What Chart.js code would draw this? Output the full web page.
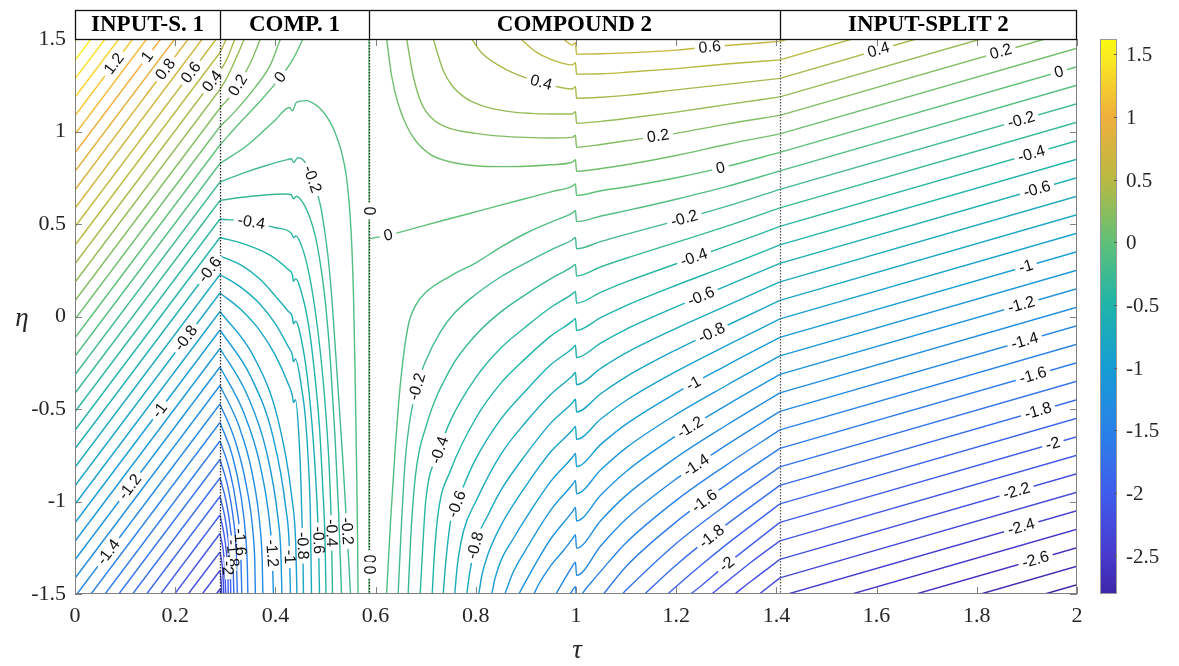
<!DOCTYPE html>
<html>
<head>
<meta charset="utf-8">
<title>Contour map</title>
<script src="https://cdn.jsdelivr.net/npm/chart.js@4.4.1/dist/chart.umd.min.js"></script>
<style>
html,body{margin:0;padding:0;background:#ffffff;}
canvas{display:block;}
</style>
</head>
<body>
<canvas id="chart" width="1179" height="666"></canvas>
<script>
// ---------------- data ----------------
const xTickValues = [0, 0.2, 0.4, 0.6, 0.8, 1, 1.2, 1.4, 1.6, 1.8, 2];
const yTickValues = [-1.5, -1, -0.5, 0, 0.5, 1, 1.5];
const cbTickValues = [1.5, 1, 0.5, 0, -0.5, -1, -1.5, -2, -2.5];
const cbRange = [-2.803, 1.62];
const sectionNames = ['INPUT-S. 1', 'COMP. 1', 'COMPOUND 2', 'INPUT-SPLIT 2'];
const sectionEdges = [0, 0.2894, 0.5868, 1.407, 2];

// contour polylines: [level, [[tau, eta], ...]]
const linesInputSplit1 = [
  [1.6,[[0,1.485],[0.004,1.5]]],
  [1.5,[[0,1.385],[0.032,1.5]]],
  [1.4,[[0,1.285],[0.06,1.5]]],
  [1.3,[[0,1.185],[0.0875,1.5]]],
  [1.2,[[0,1.085],[0.115,1.5]]],
  [1.1,[[0,0.985],[0.143,1.5]]],
  [1.0,[[0,0.885],[0.171,1.5]]],
  [0.9,[[0,0.785],[0.199,1.5]]],
  [0.8,[[0,0.685],[0.226,1.5]]],
  [0.7,[[0,0.585],[0.254,1.5]]],
  [0.6,[[0,0.485],[0.282,1.5]]],
  [0.5,[[0,0.385],[0.2894,1.427]]],
  [0.4,[[0,0.285],[0.2894,1.327]]],
  [0.3,[[0,0.185],[0.2894,1.227]]],
  [0.2,[[0,0.085],[0.2894,1.127]]],
  [0.1,[[0,-0.015],[0.2894,1.027]]],
  [0,[[0,-0.115],[0.2894,0.927]]],
  [-0.1,[[0,-0.215],[0.2894,0.827]]],
  [-0.2,[[0,-0.315],[0.2894,0.727]]],
  [-0.3,[[0,-0.415],[0.2894,0.627]]],
  [-0.4,[[0,-0.515],[0.2894,0.527]]],
  [-0.5,[[0,-0.615],[0.2894,0.427]]],
  [-0.6,[[0,-0.715],[0.2894,0.327]]],
  [-0.7,[[0,-0.815],[0.2894,0.227]]],
  [-0.8,[[0,-0.915],[0.2894,0.127]]],
  [-0.9,[[0,-1.015],[0.2894,0.027]]],
  [-1.0,[[0,-1.115],[0.2894,-0.073]]],
  [-1.1,[[0,-1.215],[0.2894,-0.173]]],
  [-1.2,[[0,-1.315],[0.2894,-0.273]]],
  [-1.3,[[0,-1.415],[0.2894,-0.373]]],
  [-1.4,[[0.004,-1.5],[0.2894,-0.473]]],
  [-1.5,[[0.032,-1.5],[0.2894,-0.573]]],
  [-1.6,[[0.06,-1.5],[0.2894,-0.673]]],
  [-1.7,[[0.0875,-1.5],[0.2894,-0.773]]],
  [-1.8,[[0.115,-1.5],[0.2894,-0.873]]],
  [-1.9,[[0.143,-1.5],[0.2894,-0.973]]],
  [-2.0,[[0.171,-1.5],[0.2894,-1.073]]],
  [-2.1,[[0.199,-1.5],[0.2894,-1.173]]],
  [-2.2,[[0.226,-1.5],[0.2894,-1.273]]],
  [-2.3,[[0.254,-1.5],[0.2894,-1.373]]],
  [-2.4,[[0.282,-1.5],[0.2894,-1.473]]]
];

const linesComp1 = [
  [0.5,[[0.2894,1.427],[0.302,1.5]]],
  [0.4,[[0.2894,1.327],[0.303,1.39],[0.319,1.5]]],
  [0.3,[[0.2894,1.227],[0.305,1.3],[0.322,1.4],[0.338,1.5]]],
  [0.2,[[0.2894,1.127],[0.31,1.19],[0.325,1.25],[0.35,1.37],[0.37,1.5]]],
  [0.1,[[0.2894,1.027],[0.32,1.11],[0.36,1.24],[0.39,1.36],[0.41,1.5]]],
  [0,[[0.2894,0.927],[0.33,1.05],[0.37,1.165],[0.409,1.29],[0.435,1.39],[0.455,1.5]]],
  [-0.1,[[0.2894,0.827],[0.346,0.93],[0.399,1.06],[0.428,1.13],[0.434,1.112],[0.442,1.158],[0.462,1.167],[0.48,1.145],[0.492,1.116],[0.505,1.07],[0.515,1.02],[0.525,0.95],[0.532,0.89],[0.542,0.75],[0.549,0.55],[0.553,0.35],[0.556,0.1],[0.559,-0.3],[0.562,-0.8],[0.564,-1.2],[0.565,-1.5]]],
  [-0.2,[[0.2894,0.727],[0.33,0.77],[0.38,0.815],[0.42,0.845],[0.432,0.853],[0.436,0.832],[0.445,0.858],[0.456,0.845],[0.469,0.78],[0.48,0.69],[0.49,0.6],[0.499,0.45],[0.506,0.3],[0.514,0.05],[0.524,-0.35],[0.534,-0.75],[0.543,-1.16],[0.55,-1.5]]],
  [-0.3,[[0.2894,0.627],[0.33,0.643],[0.38,0.657],[0.42,0.662],[0.432,0.658],[0.436,0.636],[0.442,0.65],[0.455,0.615],[0.468,0.54],[0.48,0.43],[0.49,0.28],[0.5,0.07],[0.51,-0.25],[0.519,-0.65],[0.526,-1.05],[0.532,-1.5]]],
  [-0.4,[[0.2894,0.527],[0.352,0.51],[0.4,0.48],[0.432,0.45],[0.436,0.427],[0.441,0.435],[0.455,0.36],[0.468,0.22],[0.479,0.04],[0.49,-0.2],[0.5,-0.5],[0.508,-0.85],[0.512,-1.17],[0.514,-1.5]]],
  [-0.5,[[0.2894,0.427],[0.34,0.39],[0.39,0.33],[0.425,0.255],[0.434,0.225],[0.436,0.19],[0.44,0.205],[0.455,0.1],[0.467,-0.06],[0.478,-0.3],[0.488,-0.6],[0.495,-0.95],[0.499,-1.2],[0.501,-1.5]]],
  [-0.6,[[0.2894,0.327],[0.33,0.28],[0.37,0.2],[0.4,0.11],[0.425,0.03],[0.434,-0.005],[0.436,-0.04],[0.44,-0.025],[0.455,-0.17],[0.466,-0.38],[0.475,-0.65],[0.482,-0.95],[0.486,-1.21],[0.488,-1.5]]],
  [-0.7,[[0.2894,0.227],[0.33,0.16],[0.37,0.065],[0.4,-0.04],[0.425,-0.16],[0.434,-0.21],[0.436,-0.245],[0.44,-0.23],[0.452,-0.38],[0.46,-0.55],[0.466,-0.8],[0.47,-1.1],[0.472,-1.5]]],
  [-0.8,[[0.2894,0.127],[0.33,0.04],[0.37,-0.08],[0.4,-0.21],[0.425,-0.36],[0.434,-0.43],[0.436,-0.465],[0.44,-0.45],[0.447,-0.65],[0.451,-0.9],[0.453,-1.1],[0.455,-1.3],[0.456,-1.5]]],
  [-0.9,[[0.2894,0.027],[0.357,-0.218],[0.405,-0.555],[0.433,-0.982],[0.4406,-1.229],[0.443,-1.5]]],
  [-1.0,[[0.2894,-0.073],[0.351,-0.326],[0.395,-0.648],[0.421,-1.04],[0.428,-1.261],[0.43,-1.5]]],
  [-1.1,[[0.2894,-0.173],[0.3435,-0.423],[0.382,-0.728],[0.405,-1.086],[0.411,-1.286],[0.413,-1.5]]],
  [-1.2,[[0.2894,-0.273],[0.336,-0.514],[0.369,-0.798],[0.389,-1.127],[0.394,-1.308],[0.396,-1.5]]],
  [-1.3,[[0.2894,-0.373],[0.327,-0.591],[0.354,-0.852],[0.37,-1.155],[0.3737,-1.322],[0.375,-1.5]]],
  [-1.4,[[0.2894,-0.473],[0.32,-0.675],[0.342,-0.914],[0.356,-1.189],[0.359,-1.339],[0.36,-1.5]]],
  [-1.5,[[0.2894,-0.573],[0.314,-0.752],[0.331,-0.966],[0.3415,-1.215],[0.344,-1.354],[0.345,-1.5]]],
  [-1.6,[[0.2894,-0.673],[0.3085,-0.831],[0.3221,-1.022],[0.3303,-1.244],[0.333,-1.5]]],
  [-1.7,[[0.2894,-0.773],[0.3045,-0.913],[0.3154,-1.081],[0.3218,-1.277],[0.324,-1.5]]],
  [-1.8,[[0.2894,-0.873],[0.3015,-0.997],[0.3101,-1.143],[0.3153,-1.311],[0.317,-1.5]]],
  [-1.9,[[0.2894,-0.973],[0.2989,-1.08],[0.3056,-1.205],[0.3097,-1.344],[0.311,-1.5]]],
  [-2.0,[[0.2894,-1.073],[0.2967,-1.165],[0.3019,-1.267],[0.305,-1.378],[0.306,-1.5]]],
  [-2.1,[[0.2894,-1.173],[0.2981,-1.325],[0.301,-1.5]]],
  [-2.2,[[0.2894,-1.273],[0.2951,-1.383],[0.297,-1.5]]],
  [-2.3,[[0.2894,-1.373],[0.292,-1.44],[0.293,-1.5]]],
  [-2.4,[[0.2894,-1.473],[0.2905,-1.5]]]
];

// the COMP.1 / COMPOUND 2 interface is itself the zero contour
const regionBoundaryZero = [
  [0,[[0.5868,-1.5],[0.5868,1.5]]]
];

const linesCompound2 = [
  [0.6,[[0.975,1.5],[0.993,1.468],[0.999,1.48],[1.001,1.418],[1.05,1.42],[1.1,1.425],[1.2,1.44],[1.3,1.465],[1.407,1.487]]],
  [0.5,[[0.89,1.5],[0.92,1.43],[0.95,1.39],[0.993,1.36],[0.999,1.372],[1.001,1.31],[1.05,1.312],[1.1,1.32],[1.2,1.34],[1.3,1.365],[1.407,1.387]]],
  [0.4,[[0.792,1.5],[0.81,1.43],[0.844,1.36],[0.88,1.31],[0.931,1.265],[0.993,1.23],[0.999,1.242],[1.001,1.18],[1.05,1.185],[1.1,1.195],[1.2,1.225],[1.3,1.255],[1.407,1.287]]],
  [0.3,[[0.715,1.5],[0.735,1.33],[0.752,1.25],[0.78,1.18],[0.812,1.14],[0.86,1.11],[0.91,1.098],[0.95,1.095],[0.993,1.095],[0.999,1.107],[1.001,1.045],[1.05,1.055],[1.1,1.07],[1.2,1.105],[1.3,1.145],[1.407,1.187]]],
  [0.2,[[0.662,1.5],[0.675,1.3],[0.692,1.15],[0.715,1.065],[0.745,1.02],[0.8,0.99],[0.85,0.975],[0.9,0.968],[0.95,0.965],[0.993,0.968],[0.999,0.98],[1.001,0.915],[1.05,0.93],[1.1,0.95],[1.2,0.99],[1.3,1.04],[1.407,1.087]]],
  [0.1,[[0.622,1.5],[0.632,1.3],[0.645,1.15],[0.662,1.03],[0.68,0.95],[0.71,0.875],[0.75,0.835],[0.8,0.815],[0.85,0.81],[0.9,0.812],[0.95,0.82],[0.993,0.835],[0.999,0.847],[1.001,0.785],[1.05,0.8],[1.1,0.82],[1.2,0.87],[1.3,0.93],[1.407,0.987]]],
  [0,[[0.5868,0.42],[0.625,0.44],[0.7,0.494],[0.778,0.55],[0.85,0.602],[0.9,0.638],[0.95,0.674],[0.993,0.705],[0.999,0.717],[1.001,0.655],[1.05,0.68],[1.1,0.7],[1.2,0.75],[1.3,0.81],[1.407,0.887]]],
  [-0.1,[[0.622,-1.5],[0.63,-1.1],[0.639,-0.72],[0.65,-0.35],[0.665,-0.05],[0.68,0.06],[0.7,0.13],[0.75,0.22],[0.8,0.29],[0.85,0.375],[0.9,0.45],[0.95,0.51],[0.993,0.56],[0.999,0.572],[1.001,0.513],[1.05,0.543],[1.1,0.572],[1.2,0.634],[1.3,0.702],[1.407,0.787]]],
  [-0.2,[[0.645,-1.5],[0.652,-1.1],[0.66,-0.75],[0.68,-0.4],[0.7,-0.24],[0.73,-0.08],[0.758,0.02],[0.8,0.12],[0.85,0.215],[0.9,0.29],[0.95,0.36],[0.993,0.415],[0.999,0.427],[1.001,0.366],[1.05,0.406],[1.1,0.444],[1.2,0.517],[1.3,0.595],[1.407,0.687]]],
  [-0.3,[[0.665,-1.5],[0.67,-1.2],[0.68,-0.85],[0.7,-0.6],[0.75,-0.28],[0.8,-0.1],[0.85,0.025],[0.9,0.12],[0.95,0.205],[0.993,0.27],[0.999,0.282],[1.001,0.219],[1.05,0.269],[1.1,0.315],[1.2,0.401],[1.3,0.487],[1.407,0.587]]],
  [-0.4,[[0.689,-1.5],[0.694,-1.25],[0.7,-1.0],[0.725,-0.74],[0.75,-0.56],[0.8,-0.33],[0.85,-0.17],[0.9,-0.055],[0.95,0.05],[0.993,0.122],[0.999,0.136],[1.001,0.072],[1.05,0.132],[1.1,0.187],[1.2,0.285],[1.3,0.38],[1.407,0.487]]],
  [-0.5,[[0.713,-1.5],[0.717,-1.3],[0.725,-1.06],[0.75,-0.83],[0.8,-0.55],[0.85,-0.36],[0.9,-0.225],[0.95,-0.105],[0.993,-0.025],[0.999,-0.01],[1.001,-0.075],[1.05,-0.005],[1.1,0.059],[1.2,0.169],[1.3,0.272],[1.407,0.387]]],
  [-0.6,[[0.735,-1.5],[0.74,-1.33],[0.75,-1.1],[0.775,-0.92],[0.8,-0.77],[0.85,-0.555],[0.9,-0.4],[0.95,-0.26],[0.993,-0.172],[0.999,-0.155],[1.001,-0.222],[1.05,-0.142],[1.1,-0.069],[1.2,0.052],[1.3,0.165],[1.407,0.287]]],
  [-0.7,[[0.758,-1.5],[0.763,-1.35],[0.775,-1.165],[0.8,-1.0],[0.85,-0.745],[0.9,-0.57],[0.95,-0.42],[0.993,-0.32],[0.999,-0.302],[1.001,-0.369],[1.05,-0.279],[1.1,-0.197],[1.2,-0.064],[1.3,0.057],[1.407,0.187]]],
  [-0.8,[[0.782,-1.5],[0.787,-1.4],[0.8,-1.22],[0.825,-1.07],[0.85,-0.94],[0.9,-0.745],[0.95,-0.575],[0.993,-0.466],[0.999,-0.447],[1.001,-0.516],[1.05,-0.416],[1.1,-0.326],[1.2,-0.18],[1.3,-0.05],[1.407,0.087]]],
  [-0.9,[[0.806,-1.5],[0.812,-1.4],[0.825,-1.28],[0.85,-1.13],[0.9,-0.915],[0.95,-0.73],[0.993,-0.614],[0.999,-0.594],[1.001,-0.664],[1.05,-0.553],[1.1,-0.454],[1.2,-0.297],[1.3,-0.158],[1.407,-0.013]]],
  [-1.0,[[0.832,-1.5],[0.838,-1.42],[0.85,-1.32],[0.875,-1.2],[0.9,-1.09],[0.95,-0.89],[0.993,-0.761],[0.999,-0.74],[1.001,-0.811],[1.05,-0.69],[1.1,-0.582],[1.2,-0.413],[1.3,-0.265],[1.407,-0.113]]],
  [-1.1,[[0.858,-1.5],[0.875,-1.38],[0.9,-1.26],[0.95,-1.045],[0.993,-0.908],[0.999,-0.886],[1.001,-0.958],[1.05,-0.827],[1.1,-0.71],[1.2,-0.529],[1.3,-0.373],[1.407,-0.213]]],
  [-1.2,[[0.886,-1.5],[0.9,-1.43],[0.925,-1.31],[0.95,-1.2],[0.993,-1.055],[0.999,-1.032],[1.001,-1.105],[1.05,-0.964],[1.1,-0.838],[1.2,-0.645],[1.3,-0.48],[1.407,-0.313]]],
  [-1.3,[[0.916,-1.5],[0.925,-1.45],[0.95,-1.345],[0.975,-1.265],[0.993,-1.202],[0.999,-1.18],[1.001,-1.252],[1.05,-1.101],[1.1,-0.967],[1.2,-0.762],[1.3,-0.588],[1.407,-0.413]]],
  [-1.4,[[0.96,-1.5],[0.975,-1.43],[0.993,-1.349],[0.999,-1.328],[1.001,-1.399],[1.05,-1.238],[1.1,-1.095],[1.2,-0.878],[1.3,-0.695],[1.407,-0.513]]],
  [-1.5,[[0.988,-1.5],[0.993,-1.48],[0.999,-1.46],[1.001,-1.53],[1.02,-1.47],[1.05,-1.375],[1.1,-1.223],[1.2,-0.994],[1.3,-0.803],[1.407,-0.613]]],
  [-1.6,[[1.055,-1.5],[1.1,-1.351],[1.2,-1.11],[1.3,-0.91],[1.407,-0.713]]],
  [-1.7,[[1.0925,-1.5],[1.1,-1.479],[1.2,-1.227],[1.3,-1.018],[1.407,-0.813]]],
  [-1.8,[[1.137,-1.5],[1.2,-1.343],[1.3,-1.125],[1.407,-0.913]]],
  [-1.9,[[1.183,-1.5],[1.2,-1.459],[1.25,-1.343],[1.3,-1.233],[1.407,-1.013]]],
  [-2.0,[[1.229,-1.5],[1.25,-1.455],[1.3,-1.341],[1.407,-1.113]]],
  [-2.1,[[1.271,-1.5],[1.3,-1.436],[1.35,-1.327],[1.407,-1.213]]],
  [-2.2,[[1.317,-1.5],[1.35,-1.43],[1.407,-1.313]]],
  [-2.3,[[1.366,-1.5],[1.407,-1.413]]]
];

const linesInputSplit2 = [
  [0.6,[[1.407,1.487],[1.423,1.5]]],
  [0.5,[[1.407,1.387],[1.551,1.5]]],
  [0.4,[[1.407,1.287],[1.679,1.5]]],
  [0.3,[[1.407,1.187],[1.808,1.5]]],
  [0.2,[[1.407,1.087],[1.936,1.5]]],
  [0.1,[[1.407,0.987],[2,1.45]]],
  [0,[[1.407,0.887],[2,1.35]]],
  [-0.1,[[1.407,0.787],[2,1.25]]],
  [-0.2,[[1.407,0.687],[2,1.15]]],
  [-0.3,[[1.407,0.587],[2,1.05]]],
  [-0.4,[[1.407,0.487],[2,0.95]]],
  [-0.5,[[1.407,0.387],[2,0.85]]],
  [-0.6,[[1.407,0.287],[2,0.75]]],
  [-0.7,[[1.407,0.187],[2,0.65]]],
  [-0.8,[[1.407,0.087],[2,0.55]]],
  [-0.9,[[1.407,-0.013],[2,0.45]]],
  [-1.0,[[1.407,-0.113],[2,0.35]]],
  [-1.1,[[1.407,-0.213],[2,0.25]]],
  [-1.2,[[1.407,-0.313],[2,0.15]]],
  [-1.3,[[1.407,-0.413],[2,0.05]]],
  [-1.4,[[1.407,-0.513],[2,-0.05]]],
  [-1.5,[[1.407,-0.613],[2,-0.15]]],
  [-1.6,[[1.407,-0.713],[2,-0.25]]],
  [-1.7,[[1.407,-0.813],[2,-0.35]]],
  [-1.8,[[1.407,-0.913],[2,-0.45]]],
  [-1.9,[[1.407,-1.013],[2,-0.55]]],
  [-2.0,[[1.407,-1.113],[2,-0.65]]],
  [-2.1,[[1.407,-1.213],[2,-0.75]]],
  [-2.2,[[1.407,-1.313],[2,-0.85]]],
  [-2.3,[[1.407,-1.413],[2,-0.95]]],
  [-2.4,[[1.423,-1.5],[2,-1.05]]],
  [-2.5,[[1.551,-1.5],[2,-1.15]]],
  [-2.6,[[1.679,-1.5],[2,-1.25]]],
  [-2.7,[[1.808,-1.5],[2,-1.35]]],
  [-2.8,[[1.936,-1.5],[2,-1.45]]]
];

// inline contour labels: [level, tau, eta] (snapped onto the contour when drawn)
const contourLabels = [
  [1.2,0.076,1.37],[1,0.146,1.40],[0.8,0.184,1.33],[0.6,0.236,1.31],[0.4,0.275,1.27],
  [-0.6,0.265,0.26],[-0.8,0.213,-0.10],[-1,0.17,-0.51],[-1.2,0.114,-0.93],[-1.4,0.07,-1.28],
  [0.2,0.325,1.25],[0,0.409,1.295],[-0.2,0.469,0.738],[-0.4,0.352,0.51],
  [-0.2,0.545,-1.16],[-0.4,0.509,-1.17],[-0.6,0.483,-1.21],[-0.8,0.449,-1.24],[-1,0.425,-1.30],
  [-1.2,0.39,-1.28],[-1.6,0.325,-1.22],[-1.8,0.315,-1.28],[-2,0.306,-1.36],
  [0,0.5868,0.57],[0,0.5868,-1.31],[0,0.5868,-1.37],
  [0,0.625,0.44],[0.4,0.931,1.27],[0.6,1.267,1.455],[0.2,1.164,0.97],[0,1.287,0.82],
  [-0.2,1.214,0.55],[-0.4,1.234,0.33],[-0.6,1.248,0.12],[-0.8,1.271,-0.09],[-1,1.234,-0.36],
  [-1.2,1.228,-0.6],[-1.4,1.241,-0.81],[-1.6,1.257,-1.0],[-1.8,1.271,-1.19],[-2,1.301,-1.34],
  [-0.2,0.683,-0.38],[-0.4,0.725,-0.72],[-0.6,0.758,-1.01],[-0.8,0.794,-1.235],
  [0.4,1.603,1.45],[0.2,1.85,1.41],[0,1.966,1.30],[-0.2,1.89,1.05],[-0.4,1.91,0.87],[-0.6,1.92,0.69],
  [-1,1.896,0.29],[-1.2,1.886,0.09],[-1.4,1.892,-0.10],[-1.6,1.91,-0.30],[-1.8,1.92,-0.49],
  [-2,1.952,-0.69],[-2.2,1.88,-0.95],[-2.4,1.89,-1.15],[-2.6,1.92,-1.34]
];

// ---------------- styling ----------------
const cmapStops = [
  [-2.803,[62,38,168]],[-2.5,[72,58,205]],[-2.0,[64,92,236]],[-1.5,[40,130,232]],
  [-1.0,[22,156,212]],[-0.5,[30,180,170]],[0.0,[95,192,120]],[0.5,[185,185,65]],
  [1.0,[240,175,60]],[1.5,[250,238,32]],[1.62,[249,251,14]]
];
function cmap(v) {
  const s = cmapStops;
  if (v <= s[0][0]) return 'rgb(' + s[0][1].join(',') + ')';
  for (let i = 1; i < s.length; i++) {
    if (v <= s[i][0]) {
      const t = (v - s[i-1][0]) / (s[i][0] - s[i-1][0]);
      const c = s[i-1][1].map((a, k) => Math.round(a + t * (s[i][1][k] - a)));
      return 'rgb(' + c.join(',') + ')';
    }
  }
  return 'rgb(' + s[s.length-1][1].join(',') + ')';
}

const allLines = [...linesInputSplit1, ...linesComp1, ...regionBoundaryZero, ...linesCompound2, ...linesInputSplit2];

function isIncreasing(pts) {
  for (let i = 1; i < pts.length; i++) if (!(pts[i][0] > pts[i-1][0])) return false;
  return true;
}

const datasets = allLines.map(([lev, pts]) => ({
  label: String(lev),
  data: pts.map(p => ({x: p[0], y: p[1]})),
  showLine: true,
  borderColor: cmap(lev),
  backgroundColor: cmap(lev),
  borderWidth: 1.4,
  pointRadius: 0,
  pointHoverRadius: 0,
  fill: false,
  tension: 0,
  cubicInterpolationMode: (pts.length > 2 && isIncreasing(pts)) ? 'monotone' : 'default',
  clip: 0
}));

const serif = '"Liberation Serif", "Times New Roman", serif';
const sans = '"Liberation Sans", Arial, sans-serif';

function fmt(v) { return String(Math.round(v * 10) / 10); }

function labelPose(lev, tx, ty, xs, ys) {
  let best = null;
  for (const [L, pts] of allLines) {
    if (Math.abs(L - lev) > 1e-9) continue;
    const P = pts.map(p => [xs.getPixelForValue(p[0]), ys.getPixelForValue(p[1])]);
    const cum = [0];
    for (let i = 1; i < P.length; i++) cum.push(cum[i-1] + Math.hypot(P[i][0]-P[i-1][0], P[i][1]-P[i-1][1]));
    for (let i = 0; i < P.length - 1; i++) {
      const ax = P[i][0], ay = P[i][1], dx = P[i+1][0]-ax, dy = P[i+1][1]-ay;
      const l2 = dx*dx + dy*dy;
      if (!l2) continue;
      let t = ((tx-ax)*dx + (ty-ay)*dy) / l2;
      t = Math.max(0, Math.min(1, t));
      const qx = ax + t*dx, qy = ay + t*dy, d = Math.hypot(tx-qx, ty-qy);
      if (!best || d < best.d) best = {d, qx, qy, P, cum, s: cum[i] + t*Math.sqrt(l2)};
    }
  }
  if (!best) return null;
  const at = (s) => {
    const P = best.P, cum = best.cum;
    s = Math.max(0, Math.min(cum[cum.length-1], s));
    for (let i = 1; i < P.length; i++) {
      if (s <= cum[i]) {
        const f = (s - cum[i-1]) / ((cum[i] - cum[i-1]) || 1);
        return [P[i-1][0] + f*(P[i][0]-P[i-1][0]), P[i-1][1] + f*(P[i][1]-P[i-1][1])];
      }
    }
    return P[P.length-1];
  };
  const p1 = at(best.s - 9), p2 = at(best.s + 9);
  let dx = p2[0]-p1[0], dy = p2[1]-p1[1];
  if (dx < 0 || (Math.abs(dx) < 1e-6 && dy < 0)) { dx = -dx; dy = -dy; }
  return {x: best.qx, y: best.qy, ang: Math.atan2(dy, dx)};
}

function seg(ctx, x1, y1, x2, y2) { ctx.beginPath(); ctx.moveTo(x1, y1); ctx.lineTo(x2, y2); ctx.stroke(); }

const overlay = {
  id: 'overlay',
  afterDatasetsDraw(chart) {
    const ctx = chart.ctx, a = chart.chartArea;
    const xs = chart.scales.x, ys = chart.scales.y, cb = chart.scales.cb;

    // section boundaries (dotted)
    ctx.save();
    ctx.setLineDash([1.5, 1.5]);
    ctx.lineWidth = 1.3;
    sectionEdges.slice(1, -1).forEach((t, i) => {
      const px = Math.round(xs.getPixelForValue(t)) + 0.5;
      ctx.strokeStyle = i === 2 ? '#555555' : '#2a2a2a';
      seg(ctx, px, a.top, px, a.bottom);
    });
    ctx.restore();

    // inline contour labels
    ctx.save();
    ctx.font = '16px ' + sans;
    ctx.textAlign = 'center';
    ctx.textBaseline = 'middle';
    for (const [lev, t, e] of contourLabels) {
      const pose = labelPose(lev, xs.getPixelForValue(t), ys.getPixelForValue(e), xs, ys);
      if (!pose) continue;
      const txt = fmt(lev);
      const w = ctx.measureText(txt).width;
      ctx.save();
      ctx.translate(pose.x, pose.y);
      ctx.rotate(pose.ang);
      ctx.fillStyle = '#ffffff';
      ctx.fillRect(-w/2 - 4, -3, w + 8, 6);
      ctx.fillStyle = '#111111';
      ctx.fillText(txt, 0, 0.5);
      ctx.restore();
    }
    ctx.restore();

    // axes box and inward ticks
    ctx.save();
    ctx.strokeStyle = '#808080';
    ctx.lineWidth = 1;
    ctx.strokeRect(a.left + 0.5, a.top + 0.5, a.right - a.left - 1, a.bottom - a.top - 1);
    xTickValues.forEach(v => {
      const px = Math.round(xs.getPixelForValue(v)) + 0.5;
      seg(ctx, px, a.bottom, px, a.bottom - 7);
      seg(ctx, px, a.top, px, a.top + 7);
    });
    yTickValues.forEach(v => {
      const py = Math.round(ys.getPixelForValue(v)) + 0.5;
      seg(ctx, a.left, py, a.left + 7, py);
      seg(ctx, a.right, py, a.right - 7, py);
    });
    ctx.restore();

    // header with section names
    ctx.save();
    const hTop = 10;
    ctx.fillStyle = '#ffffff';
    ctx.fillRect(a.left, hTop, a.right - a.left, a.top - hTop);
    ctx.strokeStyle = '#111111';
    ctx.lineWidth = 1.3;
    ctx.strokeRect(a.left + 0.5, hTop + 0.5, a.right - a.left - 1, a.top - hTop);
    sectionEdges.slice(1, -1).forEach(t => {
      const px = Math.round(xs.getPixelForValue(t)) + 0.5;
      seg(ctx, px, hTop, px, a.top);
    });
    ctx.fillStyle = '#000000';
    ctx.font = 'bold 23px ' + serif;
    ctx.textAlign = 'center';
    ctx.textBaseline = 'middle';
    sectionNames.forEach((name, i) => {
      const mid = (xs.getPixelForValue(sectionEdges[i]) + xs.getPixelForValue(sectionEdges[i+1])) / 2;
      ctx.fillText(name, mid, (hTop + a.top) / 2 + 1);
    });
    ctx.restore();

    // colorbar
    ctx.save();
    const cx0 = 1100, cx1 = 1117;
    const cTop = cb.getPixelForValue(cbRange[1]), cBot = cb.getPixelForValue(cbRange[0]);
    for (let py = Math.floor(cTop); py < Math.ceil(cBot); py++) {
      ctx.fillStyle = cmap(cb.getValueForPixel(py + 0.5));
      ctx.fillRect(cx0, py, cx1 - cx0, 1);
    }
    ctx.strokeStyle = '#9a9a9a';
    ctx.lineWidth = 1;
    ctx.strokeRect(cx0 + 0.5, cTop + 0.5, cx1 - cx0 - 1, cBot - cTop - 1);
    ctx.strokeStyle = '#5a5a5a';
    ctx.fillStyle = '#262626';
    ctx.font = '21px ' + serif;
    ctx.textAlign = 'left';
    ctx.textBaseline = 'middle';
    cbTickValues.forEach(v => {
      const py = Math.round(cb.getPixelForValue(v)) + 0.5;
      seg(ctx, cx1, py, cx1 - 3, py);
      ctx.fillText(fmt(v), 1126, py + 1);
    });
    ctx.restore();

    // axis titles
    ctx.save();
    ctx.fillStyle = '#262626';
    ctx.font = 'italic 27px ' + serif;
    ctx.textAlign = 'center';
    ctx.textBaseline = 'middle';
    ctx.fillText('\u03B7', 22, (a.top + a.bottom) / 2 + 2);
    ctx.fillText('\u03C4', (a.left + a.right) / 2 + 1, 651);
    ctx.restore();
  }
};

new Chart(document.getElementById('chart'), {
  type: 'scatter',
  data: { datasets },
  options: {
    responsive: false,
    animation: false,
    devicePixelRatio: 1,
    layout: { padding: { left: 0, right: 102, top: 39, bottom: 0 } },
    plugins: { legend: { display: false }, tooltip: { enabled: false } },
    events: [],
    scales: {
      x: {
        type: 'linear', min: 0, max: 2,
        afterBuildTicks: s => { s.ticks = xTickValues.map(v => ({value: v})); },
        ticks: { font: { family: serif, size: 22 }, color: '#262626', padding: 9, maxRotation: 0, autoSkip: false, callback: v => fmt(v) },
        grid: { display: false, drawTicks: false },
        border: { display: false },
        afterFit: s => { s.height = 72; s.paddingLeft = 0; s.paddingRight = 0; }
      },
      y: {
        type: 'linear', min: -1.5, max: 1.5,
        afterBuildTicks: s => { s.ticks = yTickValues.map(v => ({value: v})); },
        ticks: { font: { family: serif, size: 22 }, color: '#262626', padding: 9, autoSkip: false, callback: v => fmt(v) },
        grid: { display: false, drawTicks: false },
        border: { display: false },
        afterFit: s => { s.width = 75; s.paddingTop = 0; s.paddingBottom = 0; }
      },
      cb: {
        type: 'linear', position: 'right', display: false,
        min: cbRange[0], max: cbRange[1]
      }
    }
  },
  plugins: [overlay]
});
</script>
</body>
</html>
